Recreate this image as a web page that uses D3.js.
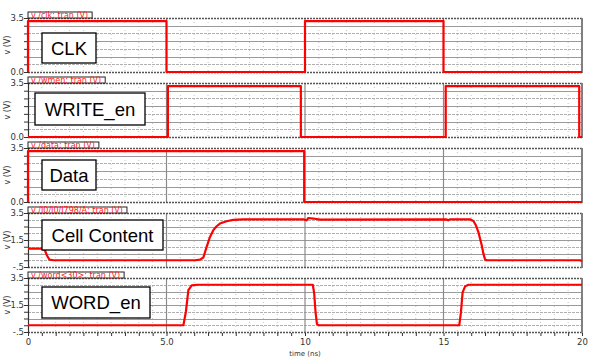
<!DOCTYPE html>
<html><head><meta charset="utf-8">
<script src="https://cdn.jsdelivr.net/npm/d3@7"></script>
<style>body{margin:0;background:#fff}svg{display:block}</style>
</head><body>
<svg id="c" width="600" height="360"></svg>
<script>
// ---- data ----
const panelNames = ["CLK", "WRITE_en", "Data", "Cell Content", "WORD_en"];
const panelTags = ["v /clk; tran (V)", "v /wmen; tran (V)", "v /data; tran (V)", "v /I0/I0/I798/A; tran (V)", "v /word<30>; tran (V)"];
const yDomains = [[0, 3.5], [0, 3.5], [0, 3.5], [-0.5, 3.5], [-0.5, 3.5]];
const yTickVals = [[0, 3.5], [0, 3.5], [0, 3.5], [-0.5, 1.5, 3.5], [-0.5, 1.5, 3.5]];
const yTickLabels = [["0.0", "3.5"], ["0.0", "3.5"], ["0.0", "3.5"], ["-.5", "1.5", "3.5"], ["-.5", "1.5", "3.5"]];
const xTickVals = [0, 5, 10, 15, 20];
const xTickLabels = ["0", "5.0", "10", "15", "20"];

const clkT = [0, 0, 5, 5, 10, 10, 15, 15, 20];
const clkV = [0, 3.3, 3.3, 0, 0, 3.3, 3.3, 0, 0];
const wenT = [0, 5.05, 5.05, 9.85, 9.85, 15.08, 15.08, 19.9, 19.9, 20];
const wenV = [0, 0, 3.3, 3.3, 0, 0, 3.3, 3.3, 0, 0];
const dataT = [0, 0, 9.97, 9.97, 20];
const dataV = [0, 3.3, 3.3, 0, 0];
const cellT = [0, 0.49, 0.61, 0.68, 0.77, 0.92, 6.03, 6.21, 6.33, 6.45, 6.57, 6.69, 6.81, 6.93, 7.17, 7.41, 7.77, 9.94, 10.06, 10.12, 10.30, 10.54, 15.11, 15.17, 15.23, 15.96, 16.08, 16.17, 16.26, 16.32, 16.38, 16.44, 16.50, 16.56, 19.93, 20];
const cellV = [0.86, 0.86, 0.74, 0.37, 0.05, 0, 0, 0.05, 0.2, 0.99, 1.73, 2.23, 2.52, 2.72, 2.89, 2.99, 3.03, 3.03, 2.96, 3.13, 3.09, 3.01, 3.03, 2.96, 3.03, 3.03, 2.91, 2.59, 2.09, 1.60, 1.11, 0.49, 0.05, 0, 0, -0.07];
const wordT = [0, 5.61, 5.70, 5.79, 5.91, 6.1, 10.28, 10.33, 10.38, 10.43, 10.5, 15.57, 15.63, 15.69, 15.78, 15.90, 20];
const wordV = [0, 0, 1.0, 2.6, 2.95, 3.0, 3.0, 2.4, 1.0, 0.1, 0, 0, 0.97, 2.44, 2.88, 3.0, 3.0];
const seriesT = [clkT, wenT, dataT, cellT, wordT];
const seriesV = [clkV, wenV, dataV, cellV, wordV];

// ---- layout ----
const left = 28, right = 582;
const panelTop = [18, 83, 148, 213, 278];
const panelH = 54;
const labelBoxes = [
  {dx: 14, dy: 15, w: 54, h: 30},
  {dx: 7, dy: 10, w: 110, h: 32},
  {dx: 14, dy: 12, w: 54, h: 30},
  {dx: 14, dy: 7, w: 121, h: 30},
  {dx: 14, dy: 9, w: 108, h: 31}
];

const svg = d3.select("#c");
const x = d3.scaleLinear().domain([0, 20]).range([left, right]);
const line = d3.line();

panelNames.forEach((name, i) => {
  const top = panelTop[i], bot = top + panelH;
  const y = d3.scaleLinear().domain(yDomains[i]).range([bot, top]);
  const g = svg.append("g");

  const vminor = d3.range(0.5, 20, 0.5).filter(v => v % 5 !== 0);
  g.selectAll(".vg").data(vminor).enter().append("line")
    .attr("x1", d => x(d)).attr("x2", d => x(d))
    .attr("y1", top).attr("y2", bot)
    .attr("stroke", "#c4c4c4").attr("stroke-width", 1).attr("stroke-dasharray", "1,3");
  const [y0, y1] = yDomains[i];
  const hvals = d3.range(y0 + 0.5, y1 - 0.01, 0.5);
  g.selectAll(".hg").data(hvals).enter().append("line")
    .attr("x1", left).attr("x2", right)
    .attr("y1", d => Math.round(y(d)) + 0.5).attr("y2", d => Math.round(y(d)) + 0.5)
    .attr("stroke", (d, k) => k % 2 ? "#9a9a9a" : "#b0b0b0")
    .attr("stroke-width", 1)
    .attr("stroke-dasharray", (d, k) => k % 2 ? null : "3,1");
  g.selectAll(".vm").data([5, 10, 15]).enter().append("line")
    .attr("x1", d => x(d)).attr("x2", d => x(d))
    .attr("y1", top).attr("y2", bot)
    .attr("stroke", "#8a8a8a").attr("stroke-width", 1.2);

  g.append("line").attr("x1", left).attr("x2", right).attr("y1", top + 0.5).attr("y2", top + 0.5)
    .attr("stroke", "#555").attr("stroke-width", 1.4).attr("stroke-dasharray", "2,1");
  g.append("line").attr("x1", left).attr("x2", right).attr("y1", bot + 0.5).attr("y2", bot + 0.5)
    .attr("stroke", "#555").attr("stroke-width", 1.4).attr("stroke-dasharray", "2,1");
  g.append("line").attr("x1", right).attr("x2", right).attr("y1", top).attr("y2", bot + 1)
    .attr("stroke", "#808080").attr("stroke-width", 2);

  const ya = d3.axisLeft(y).tickValues(d3.range(y0, y1 + 0.01, 0.5)).tickSize(4)
    .tickFormat(d => {
      const k = yTickVals[i].findIndex(v => Math.abs(v - d) < 1e-6);
      return k >= 0 ? yTickLabels[i][k] : "";
    });
  const yg = g.append("g").attr("transform", `translate(${left},0)`).call(ya);
  yg.select(".domain").attr("stroke", "#333").attr("stroke-width", 1.2);
  yg.selectAll(".tick line").attr("stroke", "#333");
  yg.selectAll(".tick text").attr("font-family", "DejaVu Sans").attr("font-size", 8.5)
    .attr("fill", "#333").attr("x", -4);

  g.append("text").attr("transform", `translate(10,${(top + bot) / 2}) rotate(-90)`)
    .attr("text-anchor", "middle").attr("font-family", "DejaVu Sans").attr("font-size", 8)
    .attr("fill", "#333").text("v (V)");

  const tag = g.append("g");
  const tt = tag.append("text").attr("x", left + 3).attr("y", top - 0.5)
    .attr("font-family", "DejaVu Sans").attr("font-size", 8).attr("fill", "#ff2020").text(panelTags[i]);
  const tw = tt.node().getComputedTextLength();
  tag.insert("rect", "text").attr("x", left).attr("y", top - 6).attr("width", tw + 7).attr("height", 6)
    .attr("fill", "#fff").attr("stroke", "#222").attr("stroke-width", 1);

  const pts = seriesT[i].map((t, k) => [x(t), y(seriesV[i][k])]);
  g.append("path").attr("d", line(pts)).attr("fill", "none")
    .attr("stroke", "#ff0000").attr("stroke-width", 2.2).attr("stroke-linejoin", "round");

  const b = labelBoxes[i];
  g.append("rect").attr("x", left + b.dx).attr("y", top + b.dy).attr("width", b.w).attr("height", b.h)
    .attr("fill", "#fff").attr("stroke", "#000").attr("stroke-width", 1.3);
  g.append("text").attr("x", left + b.dx + b.w / 2).attr("y", top + b.dy + b.h / 2 + 6.5)
    .attr("text-anchor", "middle").attr("font-family", "Liberation Sans, Arial").attr("font-size", 18.5)
    .attr("fill", "#000").text(name);
});

const lastBot = panelTop[4] + panelH;
const xa = d3.axisBottom(x).tickValues(d3.range(0, 20.01, 0.5)).tickSize(3)
  .tickFormat(d => {
    const k = xTickVals.findIndex(v => Math.abs(v - d) < 1e-6);
    return k >= 0 ? xTickLabels[k] : "";
  });
const xg = svg.append("g").attr("transform", `translate(0,${lastBot + 1})`).call(xa);
xg.select(".domain").remove();
xg.selectAll(".tick line").attr("stroke", "#333");
xg.selectAll(".tick text").attr("font-family", "DejaVu Sans").attr("font-size", 8.5).attr("fill", "#333").attr("y", 6);
svg.append("text").attr("x", x(10)).attr("y", 356).attr("text-anchor", "middle")
  .attr("font-family", "DejaVu Sans").attr("font-size", 7).attr("fill", "#333").text("time (ns)");
</script>
</body></html>
